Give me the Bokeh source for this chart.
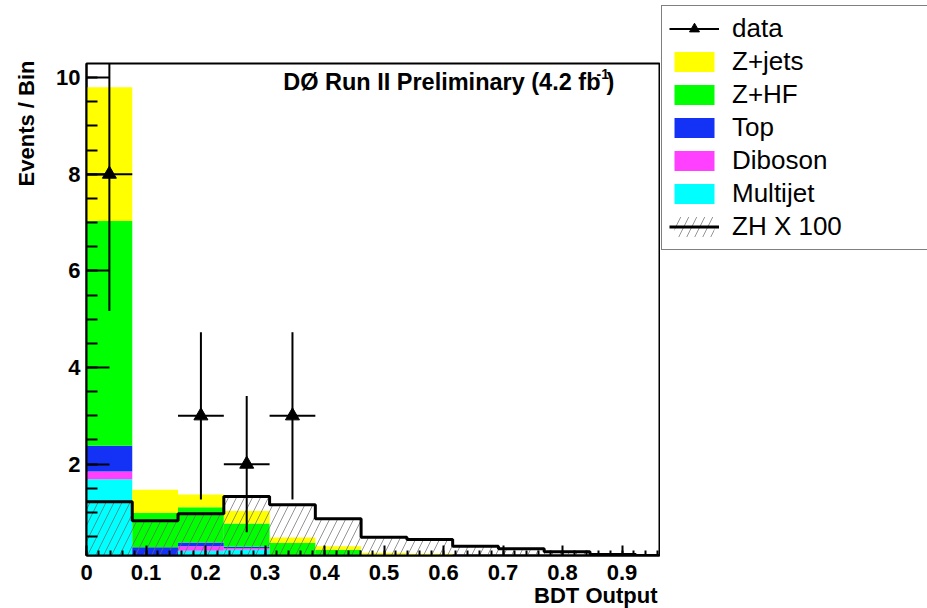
import numpy as np
from bokeh.plotting import figure
from bokeh.layouts import row
from bokeh.models import Label, Legend, LegendItem, FixedTicker, Range1d, Title
from bokeh.embed import file_html
from bokeh.resources import INLINE

# ---------------- data ----------------
bin_edges = [0.0, 0.0769, 0.1538, 0.2308, 0.3077, 0.3846, 0.4615,
             0.5385, 0.6154, 0.6923, 0.7692, 0.8462, 0.9231, 1.0]
multijet = [1.69, 0.02, 0.21, 0.23, 0.03, 0.01, 0.005, 0.005, 0.0, 0.0, 0.0, 0.0, 0.0]
diboson = [0.16, 0.04, 0.09, 0.03, 0.02, 0.01, 0.005, 0.005, 0.003, 0.002, 0.001, 0.001, 0.0]
top_bkg = [0.53, 0.22, 0.08, 0.03, 0.02, 0.01, 0.01, 0.005, 0.003, 0.002, 0.001, 0.001, 0.0]
z_hf = [4.65, 0.71, 0.73, 0.48, 0.30, 0.20, 0.07, 0.06, 0.03, 0.02, 0.01, 0.01, 0.005]
z_jets = [2.77, 0.48, 0.26, 0.26, 0.11, 0.07, 0.07, 0.07, 0.04, 0.03, 0.02, 0.01, 0.01]
zh_x100 = [1.22, 0.83, 0.975, 1.33, 1.16, 0.87, 0.49, 0.44, 0.30, 0.25, 0.19, 0.13, 0.11]
data_counts = [8, 0, 3, 2, 3, 0, 0, 0, 0, 0, 0, 0, 0]
data_errors = [2.83, 0.0, 1.73, 1.41, 1.73, 0.0, 0.0, 0.0, 0.0, 0.0, 0.0, 0.0, 0.0]

stack_names = ["Multijet", "Diboson", "Top", "Z+HF", "Z+jets"]
stack_values = [multijet, diboson, top_bkg, z_hf, z_jets]
stack_colors = ["#00ffff", "#ff40ff", "#1432f5", "#00ff00", "#ffff00"]
legend_order = ["Z+jets", "Z+HF", "Top", "Diboson", "Multijet"]

y_ticks = [0, 2, 4, 6, 8, 10]
y_tick_labels = ["", "2", "4", "6", "8", "10"]
x_ticks = [0.0, 0.1, 0.2, 0.3, 0.4, 0.5, 0.6, 0.7, 0.8, 0.9]
x_tick_labels = ["0", "0.1", "0.2", "0.3", "0.4", "0.5", "0.6", "0.7", "0.8", "0.9"]

# ---------------- layout ----------------
W, H = 927, 608
FL, FR, FT, FB = 86, 659, 63, 555
X0, X1 = 0.0, 0.963
Y0, Y1 = 0.11, 10.29
MAIN_W = FR + 1


def px2x(px):
    return X0 + (px - FL) / (FR - FL) * (X1 - X0)


def py2y(py):
    return Y0 + (FB - py) / (FB - FT) * (Y1 - Y0)


FONT = "Liberation Sans"
HATCH = dict(hatch_pattern="/", hatch_color="#666666", hatch_scale=16, hatch_weight=0.7)

left = np.array(bin_edges[:-1])
right = np.array(bin_edges[1:])
centers = (left + right) / 2
mask = np.array(data_counts) > 0
dc = np.array(data_counts, dtype=float)[mask]
de = np.array(data_errors)[mask]
dx = centers[mask]
zh = np.array(zh_x100)


def draw_all(fig, visible=True, marker_size=14):
    rends = {}
    bottom = np.zeros(len(left))
    for name, vals, col in zip(stack_names, stack_values, stack_colors):
        v = np.array(vals)
        rends[name] = fig.quad(left=left, right=right, bottom=bottom, top=bottom + v,
                               fill_color=col, line_color=None, visible=visible)
        bottom = bottom + v
    rends["zh_hatch"] = fig.quad(left=left, right=right, bottom=np.zeros(len(zh)), top=zh,
                                 fill_alpha=0, line_color=None, visible=visible, **HATCH)
    rends["zh_line"] = fig.step(x=bin_edges, y=list(zh_x100) + [zh_x100[-1]], mode="after",
                                line_color="black", line_width=3, visible=visible)
    rends["err_v"] = fig.segment(x0=dx, y0=dc - de, x1=dx, y1=dc + de,
                                 line_color="black", line_width=2, visible=visible)
    rends["err_h"] = fig.segment(x0=left[mask], y0=dc, x1=right[mask], y1=dc,
                                 line_color="black", line_width=2, visible=visible)
    rends["pts"] = fig.scatter(x=dx, y=dc, marker="triangle", size=marker_size,
                               fill_color="black", line_color="black", visible=visible)
    return rends


p = figure(width=MAIN_W, height=H, output_backend="svg", toolbar_location=None,
           x_range=Range1d(X0, X1), y_range=Range1d(Y0, Y1),
           frame_width=FR - FL, frame_height=FB - FT,
           min_border_left=FL, min_border_right=MAIN_W - FR,
           min_border_top=FT, min_border_bottom=H - FB)
p.frame_align = False
p.xgrid.visible = False
p.ygrid.visible = False
p.background_fill_color = "white"
p.border_fill_color = "white"
p.outline_line_color = "black"
p.outline_line_width = 2

draw_all(p, True, 14)

# axes
for ax in (p.xaxis[0], p.yaxis[0]):
    ax.axis_line_color = "black"
    ax.axis_line_width = 2
    ax.major_tick_line_color = "black"
    ax.minor_tick_line_color = "black"
    ax.major_tick_line_width = 2
    ax.minor_tick_line_width = 2
    ax.major_tick_out = 0
    ax.minor_tick_out = 0
    ax.major_label_text_font = FONT
    ax.major_label_text_font_style = "bold"
    ax.major_label_text_font_size = "22px"
    ax.major_label_text_color = "black"

p.yaxis.ticker = FixedTicker(ticks=y_ticks, minor_ticks=list(np.arange(0, 10.6, 0.5)))
p.yaxis.major_label_overrides = {t: l for t, l in zip(y_ticks, y_tick_labels)}
p.yaxis.major_tick_in = 23
p.yaxis.minor_tick_in = 11
p.yaxis.major_label_standoff = 6

p.xaxis.ticker = FixedTicker(ticks=x_ticks, minor_ticks=list(np.round(np.arange(0, 0.97, 0.02), 3)))
p.xaxis.major_label_overrides = {t: l for t, l in zip(x_ticks, x_tick_labels)}
p.xaxis.major_tick_in = 10
p.xaxis.minor_tick_in = 5
p.xaxis.major_label_standoff = 9

# axis titles
p.add_layout(Title(text="BDT Output", align="right", text_font=FONT, text_font_style="bold",
                   text_font_size="22px", text_color="black", standoff=-4, offset=2), "below")
p.add_layout(Title(text="Events / Bin", align="right", vertical_align="top",
                   text_font=FONT, text_font_style="bold",
                   text_font_size="22px", text_color="black", standoff=25, offset=-3), "left")

# in-frame title
p.add_layout(Label(x=px2x(600), y=py2y(81), text="DØ Run II Preliminary (4.2 fb",
                   text_align="right", text_baseline="middle", text_font=FONT, text_color="black",
                   text_font_style="bold", text_font_size="23.5px"))
p.add_layout(Label(x=px2x(596), y=py2y(73), text="-1",
                   text_align="left", text_baseline="middle", text_font=FONT, text_color="black",
                   text_font_style="bold", text_font_size="14px"))
p.add_layout(Label(x=px2x(606), y=py2y(81), text=")",
                   text_align="left", text_baseline="middle", text_font=FONT, text_color="black",
                   text_font_style="bold", text_font_size="23.5px"))

# ---------------- legend panel ----------------
LW = W - MAIN_W
q = figure(width=LW, height=H, output_backend="svg", toolbar_location=None,
           x_range=Range1d(X0, X1), y_range=Range1d(Y0, Y1),
           x_axis_location=None, y_axis_location=None,
           min_border_left=0, min_border_right=0, min_border_top=0, min_border_bottom=0)
q.frame_align = False
q.xgrid.visible = False
q.ygrid.visible = False
q.outline_line_color = None
q.background_fill_color = "white"
q.border_fill_color = "white"

lr = draw_all(q, False, 10)

items = [LegendItem(label="data", renderers=[lr["err_h"], lr["pts"]])]
items += [LegendItem(label=n, renderers=[lr[n]]) for n in legend_order]
items.append(LegendItem(label="ZH X 100", renderers=[lr["zh_hatch"], lr["zh_line"]]))

legend = Legend(items=items, location=(1, H - 250),
                glyph_width=50, glyph_height=25, spacing=2, padding=7, margin=0,
                label_standoff=13, label_width=260, label_height=30,
                label_text_font=FONT, label_text_font_size="26px",
                label_text_color="black", label_text_baseline="middle",
                border_line_color="black", border_line_width=1.5,
                background_fill_color="white", background_fill_alpha=1.0,
                inactive_fill_alpha=0.0)
q.add_layout(legend)

layout = row(p, q)
open("out.html", "w").write(file_html(layout, INLINE))
